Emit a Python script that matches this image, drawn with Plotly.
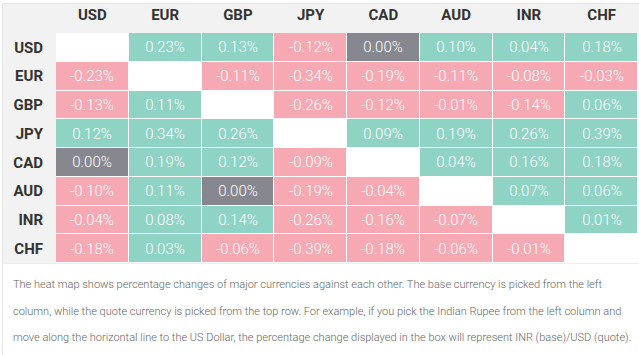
import plotly.graph_objects as go

currencies = ["USD", "EUR", "GBP", "JPY", "CAD", "AUD", "INR", "CHF"]

# rows = base currency, columns = quote currency (None on the diagonal)
usd = [None, 0.23, 0.13, -0.12, 0.00, 0.10, 0.04, 0.18]
eur = [-0.23, None, -0.11, -0.34, -0.19, -0.11, -0.08, -0.03]
gbp = [-0.13, 0.11, None, -0.26, -0.12, -0.01, -0.14, 0.06]
jpy = [0.12, 0.34, 0.26, None, 0.09, 0.19, 0.26, 0.39]
cad = [0.00, 0.19, 0.12, -0.09, None, 0.04, 0.16, 0.18]
aud = [-0.10, 0.11, 0.00, -0.19, -0.04, None, 0.07, 0.06]
inr = [-0.04, 0.08, 0.14, -0.26, -0.16, -0.07, None, 0.01]
chf = [-0.18, 0.03, -0.06, -0.39, -0.18, -0.06, -0.01, None]

rows = [usd, eur, gbp, jpy, cad, aud, inr, chf]

caption_lines = [
    "The heat map shows percentage changes of major currencies against each other. The base currency is picked from the left",
    "column, while the quote currency is picked from the top row. For example, if you pick the Indian Rupee from the left column and",
    "move along the horizontal line to the US Dollar, the percentage change displayed in the box will represent INR (base)/USD (quote).",
]

POS, NEG, ZERO = "#8fd3c5", "#f7a9b3", "#87888f"

def sign(v):
    if v is None:
        return None
    return 1 if v > 0 else (-1 if v < 0 else 0)

z = [[sign(v) for v in r] for r in rows]
text = [["" if v is None else f"{v:.2f}%" for v in r] for r in rows]

W, H = 639, 355
L, R, T, B = 56, 638, 33, 263  # plot area in pixels

fig = go.Figure(go.Heatmap(
    x=currencies, y=currencies, z=z, text=text,
    texttemplate="%{text}",
    textfont=dict(family="Roboto", size=15, color="white", weight=300),
    colorscale=[[0, NEG], [0.5, ZERO], [1, POS]],
    zmin=-1, zmax=1, showscale=False, xgap=1, ygap=1,
    hoverinfo="skip",
))

def px_x(p):
    return (p - L) / (R - L)

def px_y(p):
    return (B - p) / (B - T)

shapes = [
    # header band
    dict(type="rect", xref="paper", yref="paper", x0=px_x(2), x1=px_x(640), y0=px_y(33), y1=px_y(3),
         fillcolor="#f2f2f2", line=dict(width=0), layer="below"),
    # left label column
    dict(type="rect", xref="paper", yref="paper", x0=px_x(2), x1=px_x(56), y0=px_y(263), y1=px_y(33),
         fillcolor="#f2f2f2", line=dict(width=0), layer="below"),
    # outer container border
    dict(type="rect", xref="paper", yref="paper", x0=px_x(2.5), x1=px_x(660), y0=px_y(400), y1=px_y(3.5),
         fillcolor="rgba(0,0,0,0)", line=dict(width=1, color="#e6e6e6"), layer="below"),
    # line under table
    dict(type="line", xref="paper", yref="paper", x0=px_x(2), x1=px_x(640), y0=px_y(263.5), y1=px_y(263.5),
         line=dict(width=1, color="#eeeeee"), layer="below"),
]

annotations = []
for line, yc in zip(caption_lines, [284, 311, 337]):
    annotations.append(dict(
        text=line, xref="paper", yref="paper", x=px_x(11), y=px_y(yc),
        xanchor="left", yanchor="middle", showarrow=False, align="left",
        font=dict(family="Roboto", size=11, color="#666666", weight=300),
    ))

fig.update_layout(
    width=W, height=H,
    margin=dict(l=L, r=W - R, t=T, b=H - B, pad=0),
    paper_bgcolor="white", plot_bgcolor="white",
    shapes=shapes, annotations=annotations,
    xaxis=dict(side="top", showgrid=False, zeroline=False, showline=False, ticks="",
               tickfont=dict(family="Roboto", size=15, color="#333333", weight="bold"),
               ticklabelstandoff=9, fixedrange=True),
    yaxis=dict(autorange="reversed", showgrid=False, zeroline=False, showline=False, ticks="",
               tickfont=dict(family="Roboto", size=15, color="#333333", weight="bold"),
               ticklabelstandoff=12, fixedrange=True),
)

fig.write_html("out.html", config={"displayModeBar": False},
               post_script="document.body.style.margin='0';document.body.style.overflow='hidden';")
